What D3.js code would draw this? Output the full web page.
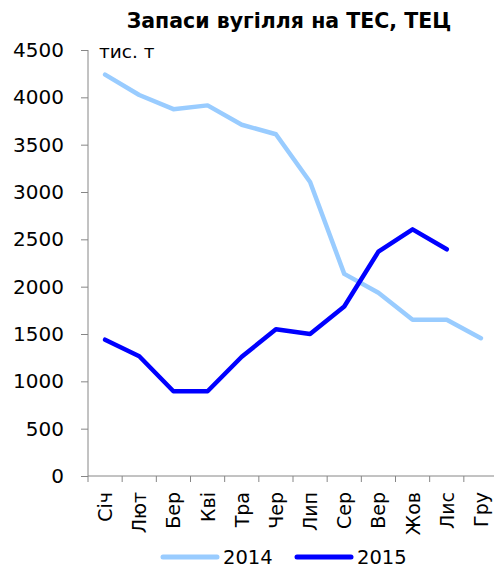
<!DOCTYPE html>
<html lang="uk">
<head>
<meta charset="UTF-8">
<title>Запаси вугілля на ТЕС, ТЕЦ</title>
<script src="https://d3js.org/d3.v7.min.js"></script>
<style>
  body { margin: 0; background: #fff; }
  text { font-family: "DejaVu Sans", Verdana, sans-serif; fill: #000; }
  .axis path, .axis line { stroke: #868686; }
</style>
</head>
<body>
<div id="chart"></div>
<script>
// months and values (тис. т)
const months = ["Січ", "Лют", "Бер", "Кві", "Тра", "Чер", "Лип", "Сер", "Вер", "Жов", "Лис", "Гру"];
const values2014 = [4240, 4025, 3875, 3915, 3710, 3610, 3105, 2135, 1935, 1650, 1650, 1455];
const values2015 = [1440, 1265, 895, 895, 1260, 1550, 1500, 1790, 2370, 2605, 2395];
const yTicks = [0, 500, 1000, 1500, 2000, 2500, 3000, 3500, 4000, 4500];

const W = 494, H = 568;
const plotLeft = 88, plotRight = 498, plotTop = 50, plotBottom = 476;

const svg = d3.select("#chart").append("svg")
    .attr("width", W)
    .attr("height", H);

const x = d3.scaleLinear().domain([0, months.length]).range([plotLeft, plotRight]);
const y = d3.scaleLinear().domain([0, 4500]).range([plotBottom, plotTop]);

// title
svg.append("text")
    .attr("x", 289)
    .attr("y", 28)
    .attr("text-anchor", "middle")
    .style("font-weight", "bold")
    .style("font-size", "20.5px")
    .text("Запаси вугілля на ТЕС, ТЕЦ");

// y axis
svg.append("g")
    .attr("class", "axis")
    .attr("transform", `translate(${plotLeft},0)`)
    .call(d3.axisLeft(y).tickValues(yTicks).tickFormat(d3.format("d")).tickSize(7).tickPadding(17))
    .call(g => g.selectAll("text").style("font-size", "20px"))
    .call(g => g.select(".domain").attr("d", `M0,${plotTop}V${plotBottom}`));

// x axis: ticks at category boundaries, labels in the middle
const xg = svg.append("g")
    .attr("class", "axis")
    .attr("transform", `translate(0,${plotBottom})`);
xg.append("line")
    .attr("x1", plotLeft).attr("x2", plotRight)
    .attr("stroke", "#868686");
xg.selectAll(".tk")
    .data(d3.range(months.length + 1))
    .enter().append("line")
    .attr("class", "tk")
    .attr("x1", d => x(d)).attr("x2", d => x(d))
    .attr("y1", 0).attr("y2", 6)
    .attr("stroke", "#868686");
xg.selectAll(".lbl")
    .data(months)
    .enter().append("text")
    .attr("class", "lbl")
    .attr("transform", (d, i) => `translate(${x(i + 0.5) + 7},16) rotate(-90)`)
    .attr("text-anchor", "end")
    .style("font-size", "19px")
    .text(d => d);

// unit label
svg.append("text")
    .attr("x", 99)
    .attr("y", 58)
    .style("font-size", "18.5px")
    .text("тис. т");

const line = d3.line()
    .x((d, i) => x(i + 0.5))
    .y(d => y(d));

const series = [
    { name: "2014", values: values2014, color: "#99ccff" },
    { name: "2015", values: values2015, color: "#0000ff" }
];

svg.selectAll(".series")
    .data(series)
    .enter().append("path")
    .attr("class", "series")
    .attr("d", d => line(d.values))
    .attr("fill", "none")
    .attr("stroke", d => d.color)
    .attr("stroke-width", 4.5)
    .attr("stroke-linecap", "round")
    .attr("stroke-linejoin", "round");

// legend
const lg = svg.append("g").attr("transform", "translate(163,557)");
const item = lg.selectAll(".item")
    .data(series)
    .enter().append("g")
    .attr("class", "item")
    .attr("transform", (d, i) => `translate(${i * 134},0)`);
item.append("line")
    .attr("x1", 0).attr("x2", 54)
    .attr("stroke", d => d.color)
    .attr("stroke-width", 5)
    .attr("stroke-linecap", "round");
item.append("text")
    .attr("x", 60)
    .attr("y", 7)
    .style("font-size", "19.5px")
    .text(d => d.name);
</script>
</body>
</html>
